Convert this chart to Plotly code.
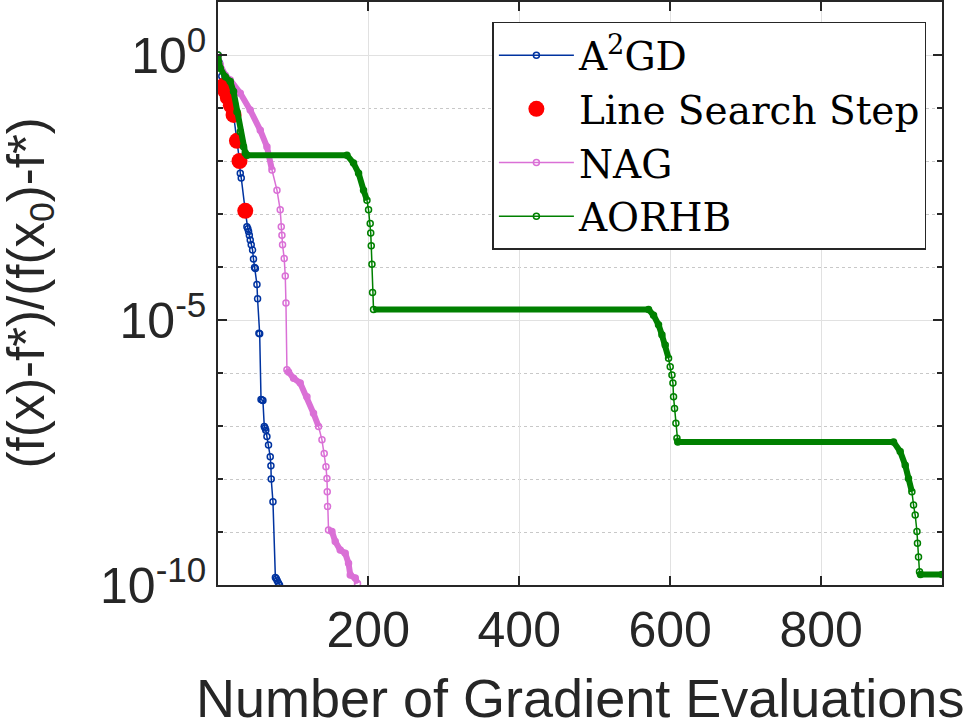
import numpy as np
import plotly.graph_objects as go

# values (x = gradient evaluations, y stored as log10)
a2gd_x = [1, 3, 6, 8.5, 11, 14, 18, 21.6, 26.1, 29.5, 30.5, 31.8, 37.1, 39.3, 40.5, 41.5,
          42.5, 43.7, 45, 46.8, 48, 49.4, 50.5, 52.6, 53.4, 55.2, 56.2, 58, 59.5, 60.5,
          62.3, 63.3, 64.3, 65.8, 67.9, 70.2, 71.1, 71.5, 73.8, 77, 78.3, 79.5, 81, 82.5]
a2gd_log10 = [0, -0.15, -0.40, -0.58, -0.68, -0.80, -0.95, -1.13, -1.62, -2.0, -2.23, -2.32,
              -2.94, -3.24, -3.28, -3.33, -3.40, -3.49, -3.58, -3.68, -3.85, -4.01, -4.03,
              -4.33, -4.60, -5.25, -5.26, -6.50, -6.51, -6.52, -7.01, -7.04, -7.08, -7.20,
              -7.36, -7.58, -7.75, -8.0, -8.43, -9.86, -9.88, -9.92, -9.96, -10.0]

ls_x = [8.5, 11, 14, 18, 21.6, 26.1, 29.5, 37.1]
ls_log10 = [-0.58, -0.68, -0.80, -0.95, -1.13, -1.62, -2.0, -2.94]

nag_x = [1, 4, 10.6, 17.2, 30.5, 43.7, 57, 65.8, 72.5, 79.1, 83.4, 84.8, 85.7, 86.5, 88.7,
         90.1, 91, 92.3, 94.4, 101.1, 109.9, 118.8, 127.5, 134.2, 138.7, 141.7, 144, 145.3,
         145.7, 146.1, 147.4, 151.9, 156.3, 162.9, 169.5, 173.9, 176.2, 182.8, 185.8]
nag_log10 = [0, -0.19, -0.38, -0.47, -0.72, -1.04, -1.42, -1.73, -2.17, -2.55, -2.92, -3.24,
             -3.40, -3.58, -3.84, -4.17, -4.68, -5.94, -5.98, -6.10, -6.19, -6.45, -6.76,
             -7.01, -7.26, -7.52, -7.77, -7.99, -8.24, -8.52, -8.96, -8.99, -9.18, -9.34,
             -9.40, -9.59, -9.81, -9.87, -9.97]

aorhb_x = [1, 4, 10.6, 17.2, 21.6, 26.1, 30.5, 34.8, 37.1, 39.5, 171.8, 180.5, 187.2, 193.8,
           198.3, 200.4, 202.6, 203.3, 204, 204.9, 205.7, 207, 571.3, 577.9, 584.5, 589,
           593.4, 597.8, 600, 602.3, 603.6, 604.4, 605.7, 607.5, 608.9, 610, 895.8, 904.6,
           911.3, 915.6, 920.1, 922.3, 924.5, 926.8, 927.5, 928.9, 930.2, 931.5, 960]
aorhb_log10 = [0, -0.25, -0.41, -0.50, -0.69, -1.07, -1.45, -1.73, -1.85, -1.89, -1.89, -2.04,
               -2.23, -2.55, -2.74, -2.92, -3.18, -3.36, -3.60, -3.95, -4.48, -4.80, -4.80,
               -4.91, -5.09, -5.28, -5.47, -5.72, -5.88, -6.04, -6.19, -6.45, -6.67, -6.95,
               -7.23, -7.30, -7.30, -7.48, -7.74, -7.99, -8.24, -8.49, -8.68, -8.99, -9.21,
               -9.47, -9.75, -9.80, -9.80]

# index runs where markers sit on every iteration (drawn as a thick band)
nag_dense = [(0, 8), (17, 23), (30, 38)]
aorhb_dense = [(0, 14), (21, 27), (34, 40), (46, 48)]

y_tickvals = [1e-10, 1e-5, 1]
y_ticktext = ['10<sup>-10</sup>', '10<sup>-5</sup>', '10<sup>0</sup>']
y_minor = [1e-9, 1e-8, 1e-7, 1e-6, 1e-4, 1e-3, 1e-2, 1e-1, 10]
x_tickvals = [200, 400, 600, 800]

x_title = 'Number of Gradient Evaluations'
y_title = '(f(x)-f*)/(f(x<sub>0</sub>)-f*)'

BLUE = '#0033a0'
PINK = '#da70d6'
GREEN = '#008000'
AX = '#262626'


def pw(v):
    return 10.0 ** np.array(v)


def band(xs, logs, runs, color):
    out = []
    for a, b in runs:
        out.append(go.Scatter(x=xs[a:b + 1], y=pw(logs[a:b + 1]), mode='lines',
                              line=dict(color=color, width=6), showlegend=False,
                              hoverinfo='skip'))
    return out


data = []
data += [go.Scatter(x=a2gd_x, y=pw(a2gd_log10), mode='lines+markers', name='A<sup>2</sup>GD',
                    line=dict(color=BLUE, width=1.5),
                    marker=dict(symbol='circle-open', size=6, color=BLUE, line=dict(width=1.5)))]
data += [go.Scatter(x=ls_x, y=pw(ls_log10), mode='markers', name='Line Search Step',
                    marker=dict(symbol='circle', size=16, color='#ff0000'))]
data += band(nag_x, nag_log10, nag_dense, PINK)
data += [go.Scatter(x=nag_x, y=pw(nag_log10), mode='lines+markers', name='NAG',
                    line=dict(color=PINK, width=1.5),
                    marker=dict(symbol='circle-open', size=6, color=PINK, line=dict(width=1.5)))]
data += band(aorhb_x, aorhb_log10, aorhb_dense, GREEN)
data += [go.Scatter(x=aorhb_x, y=pw(aorhb_log10), mode='lines+markers', name='AORHB',
                    line=dict(color=GREEN, width=1.5),
                    marker=dict(symbol='circle-open', size=6, color=GREEN, line=dict(width=1.5)))]

# legend entries in the reference order
legend_order = {'A<sup>2</sup>GD': 1, 'Line Search Step': 2, 'NAG': 3, 'AORHB': 4}
for t in data:
    if t.name in legend_order:
        t.legendrank = legend_order[t.name]

layout = go.Layout(
    width=972, height=723,
    plot_bgcolor='#FFF', paper_bgcolor='#FFF',
    margin=dict(l=218, r=30, t=2, b=138),
    font=dict(family='Liberation Sans, Arial', color=AX),
    legend=dict(
        x=0.379, y=0.966, xanchor='left', yanchor='top',
        font=dict(family='DejaVu Serif, Liberation Serif', size=39, color='#000'),
        bgcolor='#FFF', bordercolor=AX, borderwidth=1.5,
        itemwidth=75, tracegroupgap=0,
    ),
)

fig = go.Figure(data=data, layout=layout)

fig.update_xaxes(range=[1, 960], tickvals=x_tickvals, ticks='inside', ticklen=9, tickwidth=1.5,
                 tickcolor=AX, tickfont=dict(size=50, color=AX), showline=True, linewidth=1.5,
                 linecolor=AX, mirror='allticks', showgrid=True, gridcolor='#e1e1e1',
                 gridwidth=1, zeroline=False, automargin=False)
fig.update_yaxes(type='log', range=[-10, 1], tickvals=y_tickvals, ticktext=y_ticktext,
                 ticks='inside', ticklen=9, tickwidth=1.5, tickcolor=AX,
                 tickfont=dict(size=50, color=AX), showline=True, linewidth=1.5, linecolor=AX,
                 mirror='allticks', showgrid=True, gridcolor='#e1e1e1', gridwidth=1,
                 zeroline=False, automargin=False,
                 minor=dict(tickvals=y_minor, ticks='inside', ticklen=5, tickcolor=AX,
                            showgrid=True, gridcolor='#c8c8c8', griddash='dot', gridwidth=1))

# axis titles as annotations so they sit where the reference has them
fig.add_annotation(text=x_title, xref='paper', yref='paper', x=0.5, y=0,
                   xanchor='center', yanchor='middle', yshift=-113, showarrow=False,
                   font=dict(size=54, color=AX))
fig.add_annotation(text=y_title, xref='paper', yref='paper', x=0, y=0.5, textangle=-90,
                   xanchor='center', yanchor='middle', xshift=-188, showarrow=False,
                   font=dict(size=51, color=AX))

# page body has a default 8px margin; drop it so the figure fills the window
fig.write_html('out.html', config={'displayModeBar': False},
               post_script="document.body.style.margin='0';")
